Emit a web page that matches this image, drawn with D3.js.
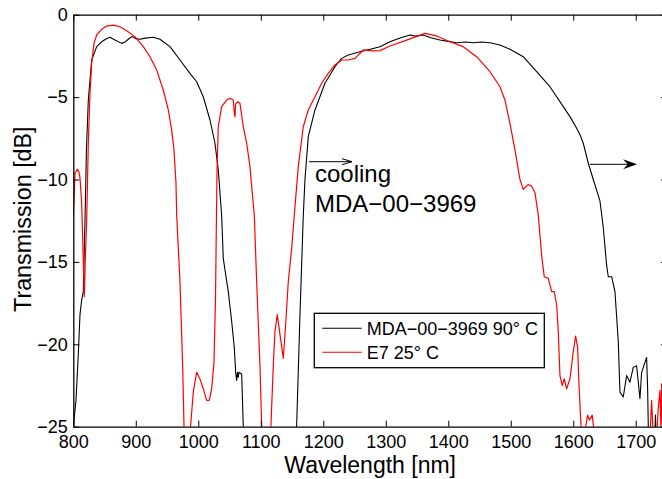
<!DOCTYPE html>
<html>
<head>
<meta charset="utf-8">
<script src="https://cdn.jsdelivr.net/npm/d3@7"></script>
<style>
  html, body { margin: 0; padding: 0; background: #fff; }
  svg { display: block; font-family: "Liberation Sans", Arial, Helvetica, sans-serif; }
</style>
</head>
<body>
<svg id="chart" width="662" height="479"></svg>
<script>
// ---- data ----
const xTicks = [800, 900, 1000, 1100, 1200, 1300, 1400, 1500, 1600, 1700];
const yTicks = [0, -5, -10, -15, -20, -25];

const blackWl = [800, 804.3, 808, 810.7, 813.4, 816, 818.7, 821, 824, 829.4, 837.4, 845.4, 852.3, 858.7, 866.7, 877.4, 882.7, 888, 893.4, 900, 906.7, 915, 928, 938.7, 954.7, 970.7, 986.7, 997.4, 1008, 1018.7, 1026.7, 1032, 1034.7, 1037.4, 1040, 1048, 1053.4, 1057.6, 1059.8, 1061.4, 1062.7, 1064, 1065, 1069.4, 1072, 1078, 1150, 1157.4, 1162.7, 1168, 1170.7, 1176, 1186.7, 1202.7, 1218.7, 1229.4, 1240, 1258.7, 1275, 1290.7, 1306.7, 1322.7, 1338.7, 1348, 1360, 1372, 1386.7, 1400, 1413.4, 1427, 1440, 1453, 1466.7, 1482.7, 1498.7, 1520, 1541.4, 1562.7, 1584, 1595, 1605.4, 1611, 1616, 1624, 1632, 1642.7, 1648, 1653.4, 1656, 1661.4, 1666.7, 1672, 1674.7, 1680, 1685.4, 1690.7, 1696, 1701.4, 1706.7, 1709.4, 1714.7, 1717.4, 1719, 1720, 1723, 1729, 1731.5, 1734, 1740, 1745, 1750];
const blackDb = [-25.0, -23.4, -20.6, -18.2, -17.3, -16.8, -12.5, -8.2, -5.2, -2.75, -1.94, -1.64, -1.47, -1.37, -1.54, -1.74, -1.66, -1.49, -1.33, -1.45, -1.49, -1.42, -1.37, -1.49, -1.94, -2.75, -3.56, -4.07, -4.98, -6.39, -7.8, -9.42, -10.8, -12.2, -14.8, -16.8, -18.6, -20.2, -21.7, -22.2, -21.7, -22.0, -21.7, -21.8, -25.0, -30, -30, -24.9, -18.2, -12.2, -10.0, -7.4, -5.78, -4.16, -3.16, -2.65, -2.45, -2.25, -2.1, -1.94, -1.64, -1.41, -1.23, -1.3, -1.23, -1.4, -1.54, -1.62, -1.70, -1.66, -1.70, -1.66, -1.70, -1.84, -2.10, -2.55, -3.46, -4.37, -5.58, -6.2, -6.89, -7.3, -7.8, -9.0, -10.0, -11.3, -12.9, -15.2, -15.9, -15.9, -16.8, -19.8, -22.9, -23.2, -21.9, -22.3, -21.4, -21.3, -23.3, -21.7, -21.1, -20.8, -22.7, -24.9, -28, -27, -24.3, -27, -28, -26, -28];

const redWl = [800, 802.7, 806.4, 809.1, 810.7, 813.4, 815.5, 817.6, 819.2, 821.4, 824, 826.7, 829.4, 833.1, 837.4, 845.4, 853.4, 864, 874.7, 885.4, 898.7, 912, 922.7, 933.4, 944, 952, 957.4, 961.1, 964.3, 965.4, 970.7, 975, 977.1, 980, 985, 987.8, 992, 997.4, 1002.7, 1008, 1013.4, 1017.6, 1021.4, 1025.1, 1027.5, 1029, 1030, 1032, 1037.4, 1045.4, 1050.7, 1056, 1058, 1058.7, 1059.8, 1063, 1066.7, 1072, 1077.4, 1082.7, 1086.4, 1089.6, 1093.4, 1098.7, 1101.4, 1105, 1112, 1116.3, 1120, 1122.7, 1126.4, 1130.7, 1136, 1139.8, 1144, 1149.4, 1153.6, 1160, 1168, 1176, 1186.7, 1197.4, 1208, 1218.7, 1229.4, 1240, 1250.7, 1264, 1278, 1290.7, 1306.7, 1333.4, 1362.7, 1381.4, 1402.7, 1424, 1445.4, 1466.7, 1482.7, 1490.7, 1498.7, 1506.7, 1514.7, 1520, 1528, 1533.4, 1538.7, 1544, 1549.4, 1553.6, 1560, 1565.4, 1569.6, 1573.4, 1576, 1578.7, 1582.4, 1585.6, 1589.4, 1594.7, 1600, 1603.8, 1607, 1609, 1612.3, 1615.5, 1620.3, 1623, 1625.9, 1630.4, 1633, 1640, 1715, 1722.7, 1725.4, 1727.5, 1734, 1736, 1738.7, 1740.3, 1741.4, 1744, 1750];
const redDb = [-12.26, -9.62, -9.38, -9.55, -9.9, -11.44, -14.3, -17.1, -14.9, -12.5, -7.8, -4.77, -2.95, -1.74, -1.23, -0.89, -0.69, -0.63, -0.73, -0.97, -1.33, -1.94, -2.55, -3.36, -4.57, -5.78, -7.0, -8.2, -10.2, -12.15, -16.2, -21.3, -24.9, -28, -28, -24.9, -22.9, -21.7, -22.1, -22.7, -23.4, -23.4, -22.7, -21.1, -17.3, -12.5, -9.4, -6.8, -5.58, -5.18, -5.07, -5.18, -6.1, -6.19, -5.42, -5.28, -5.38, -6.8, -7.8, -9.22, -10.84, -12.15, -16.2, -21.3, -24.9, -28, -28, -24.9, -21.3, -19.2, -18.2, -19.4, -20.85, -18.8, -16.2, -14.2, -12.15, -9.22, -6.8, -5.78, -4.98, -4.16, -3.56, -3.05, -2.75, -2.75, -2.65, -2.14, -2.2, -2.18, -1.9, -1.54, -1.13, -1.29, -1.64, -1.94, -2.55, -3.46, -4.37, -5.18, -6.59, -8.2, -10.0, -10.6, -10.3, -10.4, -10.8, -12.15, -14.6, -15.9, -16.0, -16.8, -16.8, -17.6, -19.2, -21.9, -22.5, -22.1, -22.7, -22.1, -20.45, -19.5, -20.2, -22.3, -24.9, -27, -24.9, -24.3, -24.6, -24.3, -25.2, -28, -28, -25.8, -23.4, -25.2, -25.2, -23.9, -22.8, -25.2, -22.4, -27, -28];

const legendLabels = ["MDA\u221200\u22123969 90\u00b0 C", "E7 25\u00b0 C"];
const seriesColors = ["#000000", "#ff0000"];
const annotationLines = ["cooling", "MDA\u221200\u22123969"];
const xLabel = "Wavelength [nm]";
const yLabel = "Transmission [dB]";

// ---- layout ----
const L = 73.3, R = 667, T = 14.7, B = 426.7;
const svg = d3.select("#chart");
const x = d3.scaleLinear().domain([800, 1750]).range([L, R]);
const y = d3.scaleLinear().domain([-25, 0]).range([B, T]);

svg.append("defs").append("clipPath").attr("id", "clip")
  .append("rect").attr("x", L).attr("y", T).attr("width", R - L).attr("height", B - T);

// data lines
const line = d3.line().x(d => x(d[0])).y(d => y(d[1]));
const blackData = blackWl.map((w, i) => [w, blackDb[i]]);
const redData = redWl.map((w, i) => [w, redDb[i]]);
const g = svg.append("g").attr("clip-path", "url(#clip)");
g.append("path").datum(blackData).attr("d", line)
  .attr("fill", "none").attr("stroke", seriesColors[0]).attr("stroke-width", 1.1).attr("stroke-linejoin", "round");
g.append("path").datum(redData).attr("d", line)
  .attr("fill", "none").attr("stroke", seriesColors[1]).attr("stroke-width", 1.2).attr("stroke-linejoin", "round");

// axes
const tickLen = 6;
const axisFont = 18;
const xB = svg.append("g").attr("transform", `translate(0,${B})`)
  .call(d3.axisBottom(x).tickValues(xTicks).tickSizeInner(-tickLen).tickSizeOuter(0).tickPadding(8.5).tickFormat(d3.format("d")));
const xT = svg.append("g").attr("transform", `translate(0,${T})`)
  .call(d3.axisTop(x).tickValues(xTicks).tickSizeInner(-tickLen).tickSizeOuter(0).tickFormat(""));
const yL = svg.append("g").attr("transform", `translate(${L},0)`)
  .call(d3.axisLeft(y).tickValues(yTicks).tickSizeInner(-tickLen).tickSizeOuter(0).tickPadding(5.5));
const yR = svg.append("g").attr("transform", `translate(${R},0)`)
  .call(d3.axisRight(y).tickValues(yTicks).tickSizeInner(-tickLen).tickSizeOuter(0).tickFormat(""));
[xB, xT, yL, yR].forEach(a => {
  a.select(".domain").attr("stroke", "#000").attr("stroke-width", 1.3);
  a.selectAll(".tick line").attr("stroke", "#000").attr("stroke-width", 1);
  a.selectAll("text").attr("font-size", axisFont).attr("font-family", "Liberation Sans, Arial, sans-serif").attr("fill", "#000");
});
xB.selectAll("text").attr("dy", "0.71em");

// axis labels
svg.append("text").attr("x", (L + R) / 2).attr("y", 472.5)
  .attr("text-anchor", "middle").attr("font-size", 23).text(xLabel);
svg.append("text").attr("transform", `translate(31,${(T + B) / 2 - 1.5}) rotate(-90)`)
  .attr("text-anchor", "middle").attr("font-size", 23.3).text(yLabel);

// annotation
svg.append("text").attr("x", 315).attr("y", 181.7).attr("font-size", 24).text(annotationLines[0]);
svg.append("text").attr("x", 315).attr("y", 211.7).attr("font-size", 24).text(annotationLines[1]);

// arrows
function arrow(x1, x2, yy, headL, headW, filled) {
  svg.append("line").attr("x1", x1).attr("x2", x2 - (filled ? headL * 0.6 : 0)).attr("y1", yy).attr("y2", yy)
    .attr("stroke", "#000").attr("stroke-width", 1);
  if (filled) {
    svg.append("path")
      .attr("d", `M${x2},${yy} L${x2 - headL},${yy - headW / 2} L${x2 - headL * 0.65},${yy} L${x2 - headL},${yy + headW / 2} Z`)
      .attr("fill", "#000");
  } else {
    svg.append("path")
      .attr("d", `M${x2 - headL},${yy - headW / 2} L${x2},${yy} L${x2 - headL},${yy + headW / 2}`)
      .attr("fill", "none").attr("stroke", "#000").attr("stroke-width", 1);
  }
}
arrow(309, 352, 161.7, 10, 6, false);
arrow(590, 637, 164.3, 14, 10, true);

// legend
const lg = svg.append("g");
lg.append("rect").attr("x", 314.3).attr("y", 313.3).attr("width", 230).attr("height", 54.4)
  .attr("fill", "#fff").attr("stroke", "#000").attr("stroke-width", 1.3);
const legY = [328.3, 352.3];
legendLabels.forEach((lab, i) => {
  lg.append("line").attr("x1", 322.3).attr("x2", 361.7).attr("y1", legY[i]).attr("y2", legY[i])
    .attr("stroke", seriesColors[i]).attr("stroke-width", 1.1);
  lg.append("text").attr("x", 366.7).attr("y", legY[i] + 6.6).attr("font-size", 18).text(lab);
});
</script>
</body>
</html>
